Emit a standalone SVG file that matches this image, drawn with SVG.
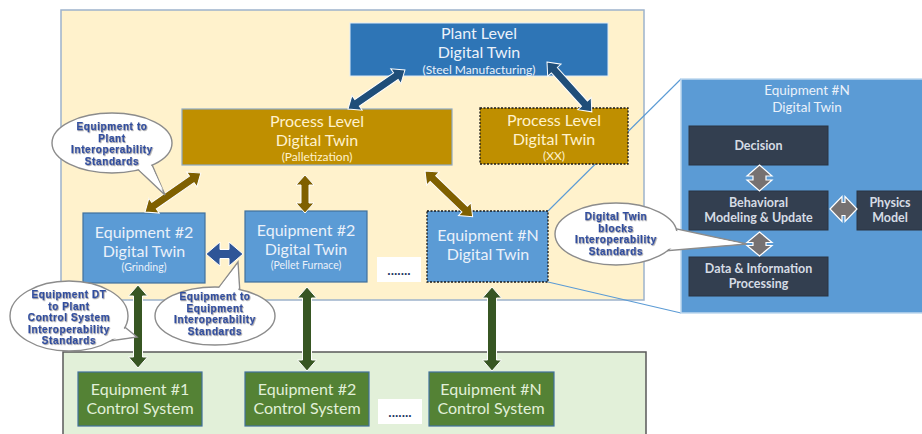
<svg xmlns="http://www.w3.org/2000/svg" width="922" height="434" viewBox="0 0 922 434">
<defs>
<style>
.t{font-family:Lato,"Open Sans","Liberation Sans",sans-serif;text-anchor:middle}
.big{font-size:16px}
.sm{font-size:10.5px}
.sm2{font-size:12px}
.dk{font-size:12.5px;font-weight:bold;fill:#D6DCE5}
.cw{fill:#EAF1FA}
.cy{fill:#FFF2CC}
.cg{fill:#E2F0D9}
.blue{fill:#2E75B6;stroke:#DEEBF7;stroke-width:1}
.proc{fill:#BF8F00;stroke:#8EA9C1;stroke-width:1.2}
.procd{fill:#BF8F00;stroke:#1a1a1a;stroke-width:1.3;stroke-dasharray:2 1.5}
.eq{fill:#5B9BD5;stroke:#41719C;stroke-width:1.2}
.eqd{fill:#5B9BD5;stroke:#1a1a1a;stroke-width:1.3;stroke-dasharray:2 1.5}
.cs{fill:#548235;stroke:#41719C;stroke-width:1.2}
.dark{fill:#333F50;stroke:#2a3442;stroke-width:1}
.dots{fill:#FFFFFF}
.dt{font-family:"Liberation Sans",sans-serif;font-size:12px;font-weight:bold;fill:#1F3864;text-anchor:middle}
.arr{stroke:#FFFFFF;stroke-width:1}
.ab{fill:#1F4E79}
.ao{fill:#7F6000}
.ah{fill:#2F5597}
.ag{fill:#375623}
.dia{fill:#767171;stroke:#FFFFFF;stroke-width:1.2}
.bub{fill:#FFFFFF;stroke:#8C8C8C;stroke-width:1.4}
.bubf{fill:#FFFFFF}
.ct{font-family:"Liberation Sans",Arial,sans-serif;font-size:10px;font-weight:bold;letter-spacing:0.6px;fill:#2F4FA0;stroke:#2F4FA0;stroke-width:0.25;text-anchor:middle;filter:url(#sh)}
.zl{stroke:#5B9BD5;stroke-width:1.1;fill:none}
</style>
<filter id="sh" x="-10%" y="-30%" width="120%" height="160%">
<feDropShadow dx="0.8" dy="0.8" stdDeviation="0.4" flood-color="#9a9a9a" flood-opacity="0.9"/>
</filter>
</defs>
<rect width="922" height="434" fill="#FFFFFF"/>

<g id="panel-dt">
<rect x="61" y="10" width="583" height="290" fill="#FFF2CC" stroke="#9DB3CC" stroke-width="1.5"/>
</g>
<g id="panel-control">
<rect x="63" y="352" width="583" height="90" fill="#E2F0D9" stroke="#595959" stroke-width="1.5"/>
</g>

<g id="zoom-lines">
<line class="zl" x1="548" y1="211" x2="681" y2="79"/>
<line class="zl" x1="548" y1="282" x2="681" y2="313"/>
</g>

<g id="panel-eqn-detail">
<rect x="681" y="79" width="250" height="234" fill="#5B9BD5" stroke="#BDD7EE" stroke-width="1.5"/>
<text class="t cw" x="807" y="95" font-size="13.5">Equipment #N</text>
<text class="t cw" x="807" y="111.5" font-size="13.5">Digital Twin</text>
</g>

<g id="plant-dt">
<rect class="blue" x="350" y="23" width="258" height="53"/>
<text class="t big cw" x="479" y="39">Plant Level</text>
<text class="t big cw" x="479" y="58.2">Digital Twin</text>
<text class="t sm2 cw" x="479" y="73.5">(Steel Manufacturing)</text>
</g>

<g id="process-dt-pall">
<rect class="proc" x="182" y="109" width="270" height="56"/>
<text class="t big cy" x="317" y="126.5">Process Level</text>
<text class="t big cy" x="317" y="145.8">Digital Twin</text>
<text class="t sm2 cy" x="317" y="161">(Palletization)</text>
</g>

<g id="process-dt-xx">
<rect class="procd" x="480" y="108" width="148" height="56"/>
<text class="t big cy" x="554" y="125.5">Process Level</text>
<text class="t big cy" x="554" y="144.8">Digital Twin</text>
<text class="t sm2 cy" x="554" y="160">(XX)</text>
</g>

<g id="eq2-dt-grinding">
<rect class="eq" x="83" y="213" width="122" height="70"/>
<text class="t big cw" x="144" y="237.5">Equipment #2</text>
<text class="t big cw" x="144" y="256.8">Digital Twin</text>
<text class="t sm cw" x="144" y="271">(Grinding)</text>
</g>

<g id="eq2-dt-pellet">
<rect class="eq" x="245" y="211" width="122" height="71"/>
<text class="t big cw" x="306" y="235.5">Equipment #2</text>
<text class="t big cw" x="306" y="254.8">Digital Twin</text>
<text class="t sm cw" x="306" y="269">(Pellet Furnace)</text>
</g>

<g id="dots-dt">
<rect class="dots" x="377" y="257" width="44" height="25"/>
<text class="dt" x="399" y="275">.......</text>
</g>

<g id="eqn-dt">
<rect class="eqd" x="427" y="211" width="121" height="71"/>
<text class="t big cw" x="488" y="240.5">Equipment #N</text>
<text class="t big cw" x="488" y="259.8">Digital Twin</text>
</g>

<g id="eq1-cs">
<rect class="cs" x="78" y="372" width="124" height="54"/>
<text class="t big cg" x="140" y="394.5">Equipment #1</text>
<text class="t big cg" x="140" y="413.8">Control System</text>
</g>
<g id="eq2-cs">
<rect class="cs" x="245" y="372" width="124" height="54"/>
<text class="t big cg" x="307" y="394.5">Equipment #2</text>
<text class="t big cg" x="307" y="413.8">Control System</text>
</g>
<g id="dots-cs">
<rect class="dots" x="378" y="399" width="44" height="25"/>
<text class="dt" x="400" y="417">.......</text>
</g>
<g id="eqn-cs">
<rect class="cs" x="429" y="372" width="125" height="54"/>
<text class="t big cg" x="491" y="394.5">Equipment #N</text>
<text class="t big cg" x="491" y="413.8">Control System</text>
</g>

<g id="decision">
<rect class="dark" x="689" y="126" width="139" height="39"/>
<text class="t dk" x="758.5" y="150">Decision</text>
</g>
<g id="behavioral">
<rect class="dark" x="689" y="191" width="139" height="39"/>
<text class="t dk" x="758.5" y="207">Behavioral</text>
<text class="t dk" x="758.5" y="222">Modeling &amp; Update</text>
</g>
<g id="physics">
<rect class="dark" x="857" y="191" width="70" height="39"/>
<text class="t dk" x="890" y="207">Physics</text>
<text class="t dk" x="890" y="222">Model</text>
</g>
<g id="data-info">
<rect class="dark" x="689" y="257" width="139" height="39"/>
<text class="t dk" x="758.5" y="273">Data &amp; Information</text>
<text class="t dk" x="758.5" y="288">Processing</text>
</g>

<g id="connectors">
<polygon class="arr ab" transform="translate(348 109) rotate(-34.4)" points="0,0 11,-9 11,-4 58,-4 58,-9 69,0 58,9 58,4 11,4 11,9"/>
<polygon class="arr ab" transform="translate(547 62) rotate(48)" points="0,0 11,-9 11,-4 56,-4 56,-9 67,0 56,9 56,4 11,4 11,9"/>
<polygon class="arr ao" transform="translate(145 212) rotate(-34.9)" points="0,0 11,-9 11,-4 57,-4 57,-9 68,0 57,9 57,4 11,4 11,9"/>
<polygon class="arr ao" transform="translate(305 175) rotate(90)" points="0,0 10,-9 10,-4 28,-4 28,-9 38,0 28,9 28,4 10,4 10,9"/>
<polygon class="arr ao" transform="translate(425 171) rotate(43.8)" points="0,0 11,-9 11,-4 55,-4 55,-9 66,0 55,9 55,4 11,4 11,9"/>
<polygon class="arr ah" points="206,254 220,242 220,249.5 229,249.5 229,242 243,254 229,266 229,258.5 220,258.5 220,266"/>
<polygon class="arr ag" points="138,285 147.5,296 142.5,296 142.5,357 147.5,357 138,368 128.5,357 133.5,357 133.5,296 128.5,296"/>
<polygon class="arr ag" points="307,287 316.5,298 311.5,298 311.5,360 316.5,360 307,371 297.5,360 302.5,360 302.5,298 297.5,298"/>
<polygon class="arr ag" points="492,287 501.5,298 496.5,298 496.5,360 501.5,360 492,371 482.5,360 487.5,360 487.5,298 482.5,298"/>
<polygon class="dia" points="759.5,165 772,176 766,176 766,180 772,180 759.5,191 747,180 753,180 753,176 747,176"/>
<polygon class="dia" points="830,209 842,196.5 842,202.5 845,202.5 845,196.5 857,209 845,221.5 845,215.5 842,215.5 842,221.5"/>
<polygon class="dia" points="759.5,232 772,242.5 766,242.5 766,245.5 772,245.5 759.5,256 747,245.5 753,245.5 753,242.5 747,242.5"/>
</g>

<g id="callout-eq-plant">
<polygon class="bub" points="128,160 150,160 165,195"/>
<ellipse class="bub" cx="112" cy="143" rx="60" ry="30"/>
<polygon class="bubf" points="129,161 149,161 163,190"/>
<text class="ct" x="112" y="130">Equipment to</text>
<text class="ct" x="112" y="141.5">Plant</text>
<text class="ct" x="112" y="153">Interoperability</text>
<text class="ct" x="112" y="164.5">Standards</text>
</g>

<g id="callout-eq-cs">
<polygon class="bub" points="116,320 110,341 137,337"/>
<ellipse class="bub" cx="69" cy="316" rx="59" ry="35"/>
<polygon class="bubf" points="116,322 112,339 134,336.5"/>
<text class="ct" x="69" y="298">Equipment DT</text>
<text class="ct" x="69" y="309.5">to Plant</text>
<text class="ct" x="69" y="321">Control System</text>
<text class="ct" x="69" y="332.5">Interoperability</text>
<text class="ct" x="69" y="344">Standards</text>
</g>

<g id="callout-eq-eq">
<polygon class="bub" points="214,294 238,262 240,294"/>
<ellipse class="bub" cx="215" cy="316" rx="60" ry="29"/>
<polygon class="bubf" points="216,292 237,265 238.5,292"/>
<text class="ct" x="215" y="300">Equipment to</text>
<text class="ct" x="215" y="311.5">Equipment</text>
<text class="ct" x="215" y="323">Interoperability</text>
<text class="ct" x="215" y="334.5">Standards</text>
</g>

<g id="callout-dt-blocks">
<polygon class="bub" points="668,227 664,251 747,244"/>
<ellipse class="bub" cx="616" cy="234" rx="61" ry="31"/>
<polygon class="bubf" points="666,229 665,249 742,243.5"/>
<text class="ct" x="616" y="220">Digital Twin</text>
<text class="ct" x="616" y="231.5">blocks</text>
<text class="ct" x="616" y="243">Interoperability</text>
<text class="ct" x="616" y="254.5">Standards</text>
</g>
</svg>
